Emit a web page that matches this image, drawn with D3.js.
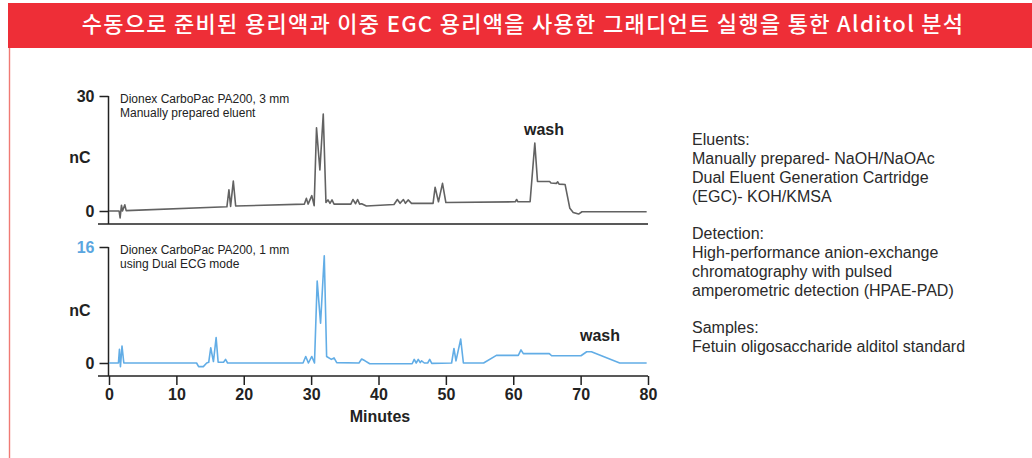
<!DOCTYPE html>
<html>
<head>
<meta charset="utf-8">
<script src="https://cdn.jsdelivr.net/npm/d3@7"></script>
<style>
  html, body { margin: 0; padding: 0; background: #fff; }
  svg { display: block; font-family: Arial, "Liberation Sans", sans-serif; }
</style>
</head>
<body>
<svg id="chart" width="1032" height="458"></svg>
<script>
// chart data
const title = '수동으로 준비된 용리액과 이중 EGC 용리액을 사용한 그래디언트 실행을 통한 Alditol 분석';
const xTicks = [0, 10, 20, 30, 40, 50, 60, 70, 80];
const manualTicks = [0, 30];
const egcTicks = [0, 16];

// top trace: manually prepared eluent (minutes, nC)
const manualTime = [0, 1.5, 1.65, 1.85, 2.0, 2.35, 2.55, 17.5, 17.8, 18.05, 18.45, 18.8, 29.0, 29.3, 29.55, 30.1, 30.45,
  30.8, 31.3, 31.8, 32.2, 32.5, 32.8, 33.1, 33.4, 35.9, 36.2, 36.6, 36.9, 37.2, 37.5, 38.2, 42.3, 42.8, 43.2, 43.7,
  44.0, 44.4, 44.9, 48.1, 48.4, 48.9, 49.5, 50.0, 60.3, 60.5, 60.7, 62.5, 63.2, 63.6, 65.4, 65.6, 66.4, 66.6, 66.8,
  67.7, 68.4, 68.9, 69.7, 70.2, 79.8];
const manualSignal = [0, 0, -1.8, 1.5, 0, 1.6, 0.1, 1.1, 5.5, 1.2, 7.8, 1.3, 1.8, 3.3, 1.8, 4.0, 1.4,
  21.7, 10.7, 25.3, 2.2, 2.9, 2.0, 2.9, 1.8, 1.8, 3.0, 1.9, 3.0, 1.8, 1.9, 1.3, 1.7, 3.0, 2.0, 3.0,
  2.0, 2.9, 2.0, 2.0, 6.2, 2.4, 7.2, 2.2, 2.4, 3.0, 2.4, 2.4, 17.7, 7.7, 7.7, 7.3, 7.2, 7.6, 7.0,
  6.9, 0.7, -0.4, -0.8, -0.2, -0.2];

// bottom trace: dual EGC mode (minutes, nC)
const egcTime = [0, 1.4, 1.55, 1.7, 1.93, 2.2, 13.0, 13.3, 14.0, 14.5, 14.8, 15.1, 15.5, 15.9, 16.2, 17.0, 17.3, 17.6,
  28.8, 29.2, 29.6, 30.1, 30.5, 30.9, 31.4, 31.95, 32.3, 33.0, 33.4, 33.8, 37.1, 37.5, 38.0, 38.7, 45.0, 45.3, 45.6,
  45.9, 46.2, 46.4, 46.8, 47.3, 47.6, 47.9, 50.85, 51.2, 51.5, 52.2, 52.6, 55.6, 57.5, 60.75, 61.15, 61.5, 65.35,
  65.7, 70.05, 70.9, 71.6, 75.8, 79.8];
const egcSignal = [0, 0, 1.9, -0.5, 2.35, 0, 0, -0.5, -0.5, 0, 0.1, 2.1, 0.2, 3.5, 0.1, 0.1, 0.5, 0,
  0, 0.9, 0, 0.9, 0, 11.3, 5.5, 14.8, 0.9, 0.5, 0.7, 0.05, 0, 0.55, 0.3, -0.1, -0.1, 0.5, 0,
  0.5, 0.05, 0.3, 0, 0, 0.5, -0.05, 0, 2.0, 0.3, 3.3, 0, 0, 1.05, 1.05, 1.8, 1.3, 1.3,
  1.0, 1.0, 1.55, 1.55, 0, 0];

const notes = [
  ['Eluents:', 'Manually prepared- NaOH/NaOAc', 'Dual Eluent Generation Cartridge', '(EGC)- KOH/KMSA'],
  ['Detection:', 'High-performance anion-exchange', 'chromatography with pulsed', 'amperometric detection (HPAE-PAD)'],
  ['Samples:', 'Fetuin oligosaccharide alditol standard']
];

const svg = d3.select('#chart');
const red = '#ee2e37';
const ink = '#222';

// frame: red title band and thin left border
svg.append('rect').attr('x', 8).attr('y', 3).attr('width', 1024).attr('height', 45).attr('fill', red);
svg.append('line').attr('x1', 9.5).attr('x2', 9.5).attr('y1', 48).attr('y2', 458)
  .attr('stroke', '#f07a74').attr('stroke-width', 1.4);
svg.append('text')
  .attr('x', 523).attr('y', 32).attr('text-anchor', 'middle')
  .attr('fill', '#fff').attr('font-size', 22).attr('font-weight', 500)
  .attr('letter-spacing', 1.3)
  .style('font-family', '"Noto Sans CJK KR", "Noto Sans", sans-serif')
  .text(title);

const x = d3.scaleLinear().domain([0, 80]).range([109, 648]);

const panels = [
  {time: manualTime, signal: manualSignal, ticks: manualTicks, y: d3.scaleLinear().domain([0, 30]).range([211, 96]),
   base: 224, color: '#626262', topColor: ink, nC: 157,
   label: ['Dionex CarboPac PA200, 3 mm', 'Manually prepared eluent'], wash: [544, 135]},
  {time: egcTime, signal: egcSignal, ticks: egcTicks, y: d3.scaleLinear().domain([0, 16]).range([363, 247]),
   base: 376, color: '#62ade6', topColor: '#5aa6e0', nC: 310,
   label: ['Dionex CarboPac PA200, 1 mm', 'using Dual ECG mode'], wash: [600, 341]}
];

panels.forEach(p => {
  const g = svg.append('g');

  // L-shaped frame
  g.append('line').attr('x1', 108.5).attr('x2', 108.5).attr('y1', p.y(p.ticks[1])).attr('y2', p.base)
    .attr('stroke', ink).attr('stroke-width', 1.5);
  g.append('line').attr('x1', 98).attr('x2', 648).attr('y1', p.base).attr('y2', p.base)
    .attr('stroke', ink).attr('stroke-width', 1.5);

  const yAxis = g.append('g')
    .attr('transform', 'translate(108.5,0)')
    .call(d3.axisLeft(p.y).tickValues(p.ticks).tickSize(9).tickPadding(5));
  yAxis.select('.domain').remove();
  yAxis.selectAll('line').attr('stroke', ink).attr('stroke-width', 1.5);
  yAxis.selectAll('text').attr('font-size', 16).attr('font-family', 'Arial, "Liberation Sans", sans-serif')
    .attr('fill', (d, i) => i === 1 ? p.topColor : ink).attr('font-weight', 'bold');

  g.append('text').attr('x', 80).attr('y', p.nC).attr('text-anchor', 'middle').attr('dy', '0.35em')
    .attr('font-size', 16).attr('font-weight', 'bold').attr('fill', ink).text('nC');

  g.selectAll('.lbl').data(p.label).enter().append('text')
    .attr('x', 120).attr('y', (d, i) => p.y(p.ticks[1]) + 7 + i * 14)
    .attr('font-size', 12).attr('fill', ink).text(d => d);

  g.append('text').attr('x', p.wash[0]).attr('y', p.wash[1]).attr('text-anchor', 'middle')
    .attr('font-size', 16).attr('font-weight', 'bold').attr('fill', ink).text('wash');

  const line = d3.line().x(d => x(d[0])).y(d => p.y(d[1]));
  g.append('path')
    .datum(p.time.map((t, i) => [t, p.signal[i]]))
    .attr('fill', 'none').attr('stroke', p.color).attr('stroke-width', 1.6)
    .attr('stroke-linejoin', 'round')
    .attr('d', line);
});

// minutes axis under the lower panel
const xAxis = svg.append('g')
  .attr('transform', 'translate(0,376)')
  .call(d3.axisBottom(x).tickValues(xTicks).tickSize(9).tickPadding(4).tickSizeOuter(0));
xAxis.select('.domain').remove();
xAxis.selectAll('line').attr('stroke', ink).attr('stroke-width', 1.5);
xAxis.selectAll('text').attr('font-size', 16).attr('font-family', 'Arial, "Liberation Sans", sans-serif')
  .attr('fill', ink).attr('font-weight', 'bold');

svg.append('text').attr('x', 380).attr('y', 422).attr('text-anchor', 'middle')
  .attr('font-size', 16).attr('font-weight', 'bold').attr('fill', ink).text('Minutes');

// method notes on the right
let yy = 145;
notes.forEach(block => {
  block.forEach(s => {
    svg.append('text').attr('x', 692).attr('y', yy).attr('font-size', 16).attr('fill', '#2a2a2a').text(s);
    yy += 19;
  });
  yy += 18;
});
</script>
</body>
</html>
